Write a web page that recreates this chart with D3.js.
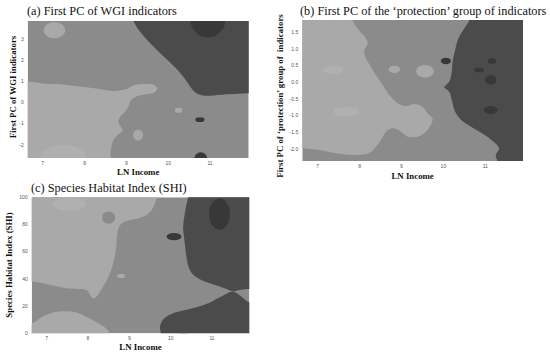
<!DOCTYPE html>
<html>
<head>
<meta charset="utf-8">
<script src="https://cdn.jsdelivr.net/npm/d3@7"></script>
<style>
  body { margin: 0; background: #fff; }
  .title { font-family: "Liberation Serif", "Times New Roman", serif; font-size: 12.3px; fill: #111; }
  .axis-label { font-family: "Liberation Serif", "Times New Roman", serif; font-size: 8.8px; font-weight: bold; fill: #111; }
  .tick-label { font-family: "Liberation Sans", Arial, sans-serif; font-size: 5px; fill: #555; }
</style>
</head>
<body>
<div id="chart"></div>
<script>
// tick values
const incomeTicks = [7, 8, 9, 10, 11];
const wgiTicks = [-2, -1, 0, 1, 2, 3];
const protTicks = [-2, -1.5, -1, -0.5, 0, 0.5, 1, 1.5];
const shiTicks = [0, 20, 40, 60, 80, 100];

// gray levels
const LIGHTER = '#b0b0b0', LIGHT = '#a9a9a9', MEDIUM = '#8b8b8b', DARK = '#4b4b4b', DARKER = '#383838';

// (a) WGI zones, [ln income, PC] outlines
const wgiLightZone = [[6.2, 0.82], [7.19, 0.88], [7.58, 0.84], [7.98, 0.74], [8.38, 0.64], [8.69, 0.56],
  [8.97, 0.62], [9.17, 0.82], [9.45, 0.88], [9.66, 0.84], [9.74, 0.68], [9.66, 0.47], [9.45, 0.39],
  [9.24, 0.30], [9.11, 0.12], [9.05, -0.19], [8.97, -0.43], [8.85, -0.67], [8.81, -0.90], [8.87, -1.14],
  [8.91, -1.33], [8.79, -1.53], [8.69, -1.77], [8.64, -2.09], [8.62, -2.45], [8.62, -3.2], [6.2, -3.2]];
const wgiDarkZone = [[9.10, 4.5], [9.17, 3.87], [9.31, 3.40], [9.52, 2.92], [9.73, 2.50], [9.94, 2.10],
  [10.15, 1.70], [10.33, 1.31], [10.47, 0.93], [10.58, 0.62], [10.70, 0.42], [10.88, 0.33], [11.27, 0.38],
  [11.93, 0.45], [12.5, 0.46], [12.5, 4.5]];
// blobs: [cx, cy, rx, ry]
const wgiLighterBlobs = [[7.5, -2.62, 0.55, 0.62]];
const wgiLightBlobs = [[7.28, 3.43, 0.26, 0.38], [9.28, -1.53, 0.12, 0.26], [10.25, -0.36, 0.09, 0.12]];
const wgiDarkerBlobs = [[10.95, 3.95, 0.42, 0.86], [10.76, -0.80, 0.11, 0.11], [10.78, -2.62, 0.15, 0.28]];

// (b) protection zones
const protLightZone = [[6.2, 2.4], [7.80, 2.4], [7.84, 1.85], [7.98, 1.57], [8.15, 1.32], [8.19, 1.15],
  [8.11, 0.97], [8.15, 0.72], [8.27, 0.47], [8.39, 0.22], [8.55, -0.08], [8.71, -0.38], [8.91, -0.63],
  [9.11, -0.71], [9.31, -0.65], [9.50, -0.73], [9.62, -0.93], [9.74, -1.08], [9.70, -1.28], [9.58, -1.48],
  [9.39, -1.63], [9.15, -1.63], [8.99, -1.48], [8.79, -1.38], [8.63, -1.48], [8.51, -1.73], [8.39, -1.93],
  [8.23, -2.12], [7.84, -2.18], [7.44, -2.13], [7.04, -2.03], [6.63, -1.98], [6.2, -1.96]];
const protDarkZone = [[10.62, 2.4], [10.62, 1.87], [10.50, 1.62], [10.36, 1.32], [10.28, 0.97], [10.22, 0.62],
  [10.20, 0.32], [10.14, 0.02], [10.02, -0.15], [10.14, -0.28], [10.20, -0.53], [10.28, -0.88], [10.42, -1.12],
  [10.62, -1.30], [10.86, -1.48], [11.14, -1.72], [11.33, -1.98], [11.25, -2.18], [11.29, -2.38],
  [11.29, -2.8], [12.5, -2.8], [12.5, 2.4]];
const protLighterBlobs = [[7.36, 0.37, 0.25, 0.12], [7.68, -0.88, 0.3, 0.15]];
const protLightBlobs = [[8.83, 0.39, 0.14, 0.11], [9.56, 0.33, 0.21, 0.19]];
const protDarkerBlobs = [[10.06, 0.64, 0.12, 0.10], [11.16, 0.64, 0.10, 0.08], [10.85, 0.37, 0.12, 0.07],
  [11.13, 0.07, 0.14, 0.14], [11.13, -0.83, 0.17, 0.12]];

// (c) SHI zones
const shiLightZone = [[6.3, 115], [9.66, 115], [9.66, 100.5], [9.62, 95.6], [9.54, 90.7], [9.38, 86.3],
  [9.10, 83.8], [8.84, 81.4], [8.74, 77.2], [8.70, 71.1], [8.68, 62.5], [8.64, 55.1], [8.56, 46.6],
  [8.46, 39.2], [8.34, 33.1], [8.24, 28.2], [8.15, 25.7], [8.06, 27.5], [7.99, 31.4], [7.86, 32.5],
  [7.50, 33.0], [7.10, 35.5], [6.66, 38.0], [6.3, 38.2]];
const shiLightBottom = [[6.3, 6], [6.66, 7.5], [6.95, 13], [7.3, 16], [7.7, 15.5], [8.0, 11.5], [8.3, 6.5],
  [8.5, 1.5], [8.55, -10], [6.3, -10]];
const shiDarkTop = [[10.42, 115], [10.42, 100.5], [10.37, 93.1], [10.33, 85.8], [10.30, 78.4], [10.32, 71.1],
  [10.35, 63.7], [10.38, 56.4], [10.43, 49.0], [10.53, 43.6], [10.74, 39.2], [11.02, 36.0], [11.30, 33.1],
  [11.50, 31.0], [11.71, 32.0], [11.89, 32.5], [12.4, 32.5], [12.4, 115]];
const shiDarkBottom = [[9.7, -10], [9.76, 0], [9.74, 4.9], [9.82, 10.3], [10.02, 14.2], [10.30, 16.7],
  [10.62, 19.1], [10.94, 22.5], [11.22, 27.0], [11.50, 30.8], [11.66, 28.2], [11.83, 24.0], [11.89, 23],
  [12.4, 23], [12.4, -10]];
const shiLighterBlobs = [[7.55, 95, 0.4, 5]];
const shiMediumBlobs = [[8.5, 85, 0.16, 4.5], [10.3, 0, 0.1, 2.5], [11.8, 14, 0.06, 1.5]];
const shiLightBlobs = [[8.8, 42.2, 0.1, 1.5]];
const shiDarkerBlobs = [[11.18, 87.7, 0.25, 11.5], [10.08, 71.1, 0.18, 2.7]];

const width = 550, height = 352;

const panels = [
  { id: 'a', title: '(a) First PC of WGI indicators', titleX: 27, titleY: 14.5,
    left: 27.7, right: 248.7, top: 21, bottom: 158,
    xDomain: [6.641, 11.926], yDomain: [-2.615, 3.866],
    yTicks: wgiTicks, yFmt: d => String(d),
    yLabel: 'First PC of WGI indicators', yLabelX: 13, yLabelY: 87, xLabelY: 174.5,
    layers: [
      { type: 'poly', data: [wgiLightZone], fill: LIGHT },
      { type: 'blob', data: wgiLighterBlobs, fill: LIGHTER },
      { type: 'blob', data: wgiLightBlobs, fill: LIGHT },
      { type: 'poly', data: [wgiDarkZone], fill: DARK },
      { type: 'blob', data: wgiDarkerBlobs, fill: DARKER }
    ] },
  { id: 'b', title: '(b) First PC of the \u2018protection\u2019 group of indicators', titleX: 300, titleY: 14.5,
    left: 302.3, right: 523, top: 20, bottom: 161,
    xDomain: [6.632, 11.90], yDomain: [-2.36, 1.869],
    yTicks: protTicks, yFmt: d => d.toFixed(1),
    yLabel: 'First PC of \u2018protection\u2019 group of  indicators', yLabelX: 279.5, yLabelY: 96, xLabelY: 179,
    layers: [
      { type: 'poly', data: [protLightZone], fill: LIGHT },
      { type: 'blob', data: protLighterBlobs, fill: LIGHTER },
      { type: 'blob', data: protLightBlobs, fill: LIGHT },
      { type: 'poly', data: [protDarkZone], fill: DARK },
      { type: 'blob', data: protDarkerBlobs, fill: DARKER }
    ] },
  { id: 'c', title: '(c) Species Habitat Index (SHI)', titleX: 31, titleY: 191.5,
    left: 31.7, right: 249.3, top: 197.3, bottom: 333.3,
    xDomain: [6.64, 11.90], yDomain: [0, 100],
    yTicks: shiTicks, yFmt: d => String(d),
    yLabel: 'Species Habitat Index (SHI)', yLabelX: 9, yLabelY: 265, xLabelY: 349.5,
    layers: [
      { type: 'poly', data: [shiLightZone, shiLightBottom], fill: LIGHT },
      { type: 'blob', data: shiLighterBlobs, fill: LIGHTER },
      { type: 'blob', data: shiMediumBlobs, fill: MEDIUM },
      { type: 'blob', data: shiLightBlobs, fill: LIGHT },
      { type: 'poly', data: [shiDarkTop, shiDarkBottom], fill: DARK },
      { type: 'blob', data: shiDarkerBlobs, fill: DARKER }
    ] }
];

const svg = d3.select('#chart').append('svg')
  .attr('width', width)
  .attr('height', height);

const defs = svg.append('defs');

panels.forEach(p => {
  const x = d3.scaleLinear().domain(p.xDomain).range([p.left, p.right]);
  const y = d3.scaleLinear().domain(p.yDomain).range([p.bottom, p.top]);

  defs.append('clipPath').attr('id', 'clip-' + p.id)
    .append('rect')
    .attr('x', p.left).attr('y', p.top)
    .attr('width', p.right - p.left).attr('height', p.bottom - p.top);

  const g = svg.append('g').attr('class', 'panel-' + p.id);
  const plot = g.append('g').attr('clip-path', `url(#clip-${p.id})`);

  // base level
  plot.append('rect')
    .attr('x', p.left).attr('y', p.top)
    .attr('width', p.right - p.left).attr('height', p.bottom - p.top)
    .attr('fill', MEDIUM);

  const outline = d3.line()
    .x(d => x(d[0]))
    .y(d => y(d[1]))
    .curve(d3.curveCatmullRomClosed.alpha(0.5));

  p.layers.forEach(layer => {
    if (layer.type === 'poly') {
      plot.selectAll(null)
        .data(layer.data)
        .enter().append('path')
        .attr('d', outline)
        .attr('fill', layer.fill);
    } else {
      plot.selectAll(null)
        .data(layer.data)
        .enter().append('ellipse')
        .attr('cx', d => x(d[0]))
        .attr('cy', d => y(d[1]))
        .attr('rx', d => Math.abs(x(d[0] + d[2]) - x(d[0])))
        .attr('ry', d => Math.abs(y(d[1] + d[3]) - y(d[1])))
        .attr('fill', layer.fill);
    }
  });

  // tick labels
  g.selectAll('.xt')
    .data(incomeTicks)
    .enter().append('text')
    .attr('class', 'tick-label')
    .attr('x', d => x(d))
    .attr('y', p.bottom + 3)
    .attr('dy', '0.71em')
    .style('text-anchor', 'middle')
    .text(d => d);

  g.selectAll('.yt')
    .data(p.yTicks)
    .enter().append('text')
    .attr('class', 'tick-label')
    .attr('x', p.left - 4)
    .attr('y', d => y(d))
    .attr('dy', '0.32em')
    .style('text-anchor', 'end')
    .text(p.yFmt);

  g.append('text')
    .attr('class', 'axis-label')
    .attr('x', (p.left + p.right) / 2)
    .attr('y', p.xLabelY)
    .style('text-anchor', 'middle')
    .text('LN Income');

  g.append('text')
    .attr('class', 'axis-label')
    .attr('transform', `translate(${p.yLabelX},${p.yLabelY}) rotate(-90)`)
    .attr('dy', '0.35em')
    .style('text-anchor', 'middle')
    .style('white-space', 'pre')
    .text(p.yLabel);

  g.append('text')
    .attr('class', 'title')
    .attr('x', p.titleX)
    .attr('y', p.titleY)
    .text(p.title);
});
</script>
</body>
</html>
